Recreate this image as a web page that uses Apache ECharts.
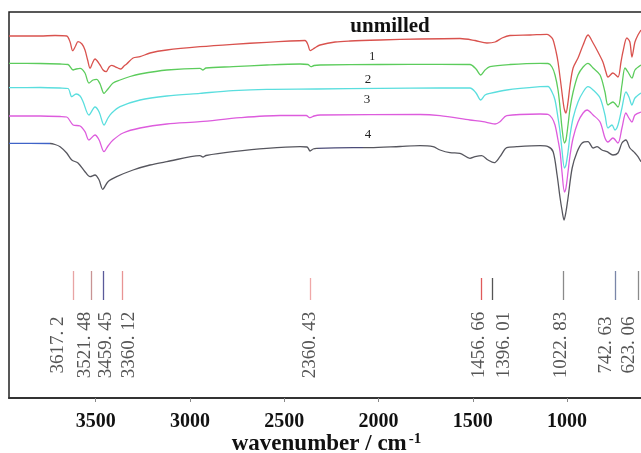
<!DOCTYPE html>
<html>
<head>
<meta charset="utf-8">
<script src="https://cdn.jsdelivr.net/npm/echarts@6/dist/echarts.min.js"></script>
<style>
  html, body { margin: 0; padding: 0; background: #fff; }
  #chart { width: 641px; height: 453px; }
</style>
</head>
<body>
<div id="chart"></div>
<script>
// IR spectra, offset traces (wavenumber cm-1, arbitrary transmittance units)
var unmilled = [
  [3960, 362], [3795, 362], [3716, 362.5], [3654, 362], [3636, 356], [3622, 347.3], [3607, 352],
  [3594, 356.3], [3573, 354], [3557, 348], [3543, 338], [3530, 329.7], [3517, 335], [3504, 339],
  [3477, 333], [3461, 328], [3445, 326.3], [3429, 331], [3415, 332.7], [3398, 331.3], [3382, 330],
  [3367, 329], [3350, 332], [3336, 334], [3302, 340], [3265, 341.3], [3212, 345], [3123, 348],
  [2947, 351.3], [2772, 353.7], [2593, 355.7], [2469, 357], [2390, 357.5], [2374, 353], [2363, 347.3],
  [2347, 349], [2331, 351], [2310, 353], [2230, 356], [2151, 357], [1992, 358], [1780, 359],
  [1568, 359.5], [1488, 357.5], [1425, 355], [1382, 356], [1345, 360], [1303, 362.5], [1196, 363],
  [1106, 363.7], [1085, 361], [1074, 358], [1058, 346], [1048, 336], [1032, 313], [1016, 290],
  [1006, 285], [995, 296], [984, 313], [968, 330], [942, 340], [915, 353], [889, 363], [862, 355],
  [836, 346], [810, 336], [794, 326], [783, 321], [757, 325], [730, 321], [714, 336], [704, 346],
  [683, 360], [667, 356], [656, 341], [640, 356], [624, 363], [608, 368]
];
var sample1 = [
  [3960, 334.7], [3795, 334.5], [3689, 334], [3647, 333.5], [3620, 328], [3604, 329], [3583, 329.7],
  [3557, 325], [3536, 315], [3514, 318], [3495, 318.7], [3477, 314], [3456, 304.7], [3435, 309],
  [3408, 315], [3371, 318], [3318, 321.5], [3265, 324], [3123, 328], [2947, 329.7], [2931, 328],
  [2915, 330], [2772, 331.3], [2593, 333], [2416, 334], [2374, 333.5], [2358, 331.3], [2342, 332.5],
  [2310, 333], [1992, 333.5], [1674, 333.7], [1515, 333.5], [1483, 329], [1458, 323], [1435, 328],
  [1409, 331.3], [1303, 333.5], [1143, 334.7], [1101, 334.5], [1080, 331], [1064, 323], [1048, 308],
  [1037, 290], [1027, 270], [1014, 255], [1006, 258], [995, 273], [984, 290], [968, 306], [942, 323],
  [915, 331], [889, 334.7], [862, 330], [825, 323], [799, 306], [783, 293], [757, 296], [730, 291],
  [709, 313], [693, 330], [677, 326], [656, 320], [640, 328], [608, 333]
];
var sample2 = [
  [3960, 310.3], [3795, 310.5], [3689, 310], [3647, 309.5], [3627, 301.3], [3604, 304], [3583, 302],
  [3567, 296.3], [3536, 283], [3504, 291], [3482, 286], [3456, 273], [3435, 280], [3415, 285],
  [3371, 291.3], [3265, 298], [3123, 302], [2947, 304.7], [2772, 307.3], [2593, 308.7], [2328, 309],
  [1992, 309.7], [1674, 310], [1515, 310], [1483, 305], [1458, 298], [1435, 303], [1409, 304.7],
  [1320, 308], [1143, 311.3], [1101, 311.5], [1080, 306], [1064, 298], [1048, 280], [1037, 266],
  [1027, 248], [1014, 230], [1006, 233], [995, 246], [984, 263], [968, 280], [942, 296], [915, 306],
  [889, 311.3], [862, 308], [825, 300], [799, 283], [783, 270], [762, 273], [746, 268], [730, 273],
  [709, 290], [688, 306], [672, 301], [656, 293], [640, 300], [608, 305]
];
var sample3 = [
  [3960, 282], [3795, 282], [3689, 281.5], [3654, 281], [3620, 273], [3583, 272], [3557, 266.3],
  [3536, 258], [3504, 263], [3482, 258], [3456, 246.3], [3435, 252], [3408, 258], [3355, 265],
  [3265, 270], [3123, 274], [2947, 276.3], [2734, 280.3], [2522, 282.5], [2384, 282.5], [2363, 280.3],
  [2342, 282], [2310, 283], [1780, 283.5], [1674, 282.3], [1515, 278], [1446, 276.3], [1382, 274],
  [1356, 276.3], [1320, 282.3], [1143, 284], [1101, 283.7], [1080, 280], [1064, 273], [1048, 258],
  [1037, 246], [1027, 226], [1014, 206], [1006, 210], [995, 226], [984, 243], [968, 260], [942, 276],
  [915, 285], [894, 288], [862, 283], [825, 276], [799, 260], [783, 256], [757, 260], [730, 255],
  [709, 270], [688, 285], [672, 280], [656, 276], [640, 283], [608, 286]
];
var sample4 = [
  [3960, 254.7], [3849, 254.7], [3742, 254.5], [3716, 253.5], [3689, 251.3], [3654, 245], [3627, 238],
  [3594, 235], [3557, 226.3], [3530, 221.3], [3504, 223], [3482, 218], [3463, 208.7], [3435, 216.3],
  [3389, 221.3], [3302, 228], [3212, 233], [3123, 236.3], [2947, 242.3], [2931, 241], [2915, 242.5],
  [2772, 246.3], [2593, 249.7], [2416, 251.3], [2379, 251], [2363, 247], [2347, 249], [2328, 249.7],
  [2135, 250.3], [2045, 250.3], [1886, 251.5], [1780, 252.3], [1711, 251.3], [1674, 248], [1621, 245.3],
  [1568, 244.7], [1515, 239.7], [1488, 241.3], [1453, 242.3], [1419, 238], [1387, 235.3], [1356, 241.3],
  [1320, 250.3], [1267, 251.3], [1143, 252.3], [1101, 251.3], [1074, 246.3], [1053, 223], [1037, 200],
  [1027, 188], [1016, 178], [1006, 186], [995, 200], [973, 230], [947, 246], [920, 255], [889, 256.3],
  [862, 250], [841, 251.3], [815, 248], [788, 246.3], [757, 243], [730, 245], [709, 255], [688, 258],
  [667, 250], [640, 245], [624, 241.3], [608, 236.3]
];

var peaks = [3617.2, 3521.48, 3459.45, 3360.12, 2360.43, 1456.66, 1396.01, 1022.83, 742.63, 623.06];
var xTicks = [3500, 3000, 2500, 2000, 1500, 1000];
var traceNames = ['unmilled', '1', '2', '3', '4'];

// styling for the peak markers (colour, top of tick, label shift in px)
var peakColors = ['#e8a4a4', '#c89494', '#5a5a9a', '#e89494', '#f0a8a8', '#e05a5a', '#555555', '#8a8a8a', '#7a86a8', '#8a8a8a'];
var peakTop = [127, 127, 127, 127, 120, 120, 120, 127, 127, 127];
var peakShift = [-16, -7, 3, 7, -1, -2, 12, -2, -10, -9];

var serif = '"Liberation Serif", "Times New Roman", serif';

var chart = echarts.init(document.getElementById('chart'));

// color null -> line colour comes from the visualMap
function trace(name, data, color, labelCoord, labelStyle) {
  var s = {
    name: name,
    type: 'line',
    data: data,
    showSymbol: false,
    smooth: 0.3,
    lineStyle: { width: 1.3 },
    markPoint: {
      symbolSize: 0,
      silent: true,
      label: Object.assign({ show: true, position: 'inside', formatter: name, fontFamily: serif, color: '#222' }, labelStyle),
      data: [{ coord: labelCoord }]
    }
  };
  if (color) {
    s.lineStyle.color = color;
    s.itemStyle = { color: color };
  }
  return s;
}

var markerLines = peaks.map(function (p, i) {
  return [
    { coord: [p, peakTop[i]], lineStyle: { color: peakColors[i], width: 1.3, type: 'solid' } },
    { coord: [p, 98] }
  ];
});

var option = {
  animation: false,
  grid: {
    left: 9, right: -3, top: 12, bottom: 55,
    outerBoundsMode: 'none',
    show: true, borderColor: '#222', borderWidth: 1.5
  },
  xAxis: {
    type: 'value',
    inverse: true,
    min: 592,
    max: 3960,
    axisLine: { show: true, lineStyle: { color: '#333', width: 2 } },
    axisTick: { show: true, length: 4, lineStyle: { color: '#888' }, customValues: xTicks },
    axisLabel: {
      customValues: xTicks,
      formatter: function (v) { return String(v); },
      fontFamily: serif, fontWeight: 'bold', fontSize: 20, color: '#111', margin: 14
    },
    splitLine: { show: false },
    name: '{a|wavenumber / cm}{b|-1}',
    nameLocation: 'middle',
    nameGap: 34,
    nameMoveOverlap: false,
    nameTextStyle: {
      rich: {
        a: { fontFamily: serif, fontWeight: 'bold', fontSize: 23, color: '#111' },
        b: { fontFamily: serif, fontWeight: 'bold', fontSize: 15, color: '#111', verticalAlign: 'top', padding: [0, 0, 10, 2] }
      }
    }
  },
  yAxis: {
    type: 'value',
    min: 0,
    max: 386,
    axisLine: { show: false },
    axisTick: { show: false },
    axisLabel: { show: false },
    splitLine: { show: false }
  },
  visualMap: [{
    type: 'piecewise',
    show: false,
    dimension: 0,
    seriesIndex: 4,
    pieces: [
      { gt: 3745, lte: 4000, color: '#3f63c8' },
      { gt: 2080, lte: 2320, color: '#4c4c78' },
      { gt: 0, lte: 2080, color: '#56565e' },
      { gt: 2320, lte: 3745, color: '#56565e' }
    ]
  }],
  series: [
    trace(traceNames[0], unmilled, '#d9524e', [1939, 371], { fontSize: 21, fontWeight: 'bold', color: '#111' }),
    trace(traceNames[1], sample1, '#5ccc5c', [2034, 341], { fontSize: 12 }),
    trace(traceNames[2], sample2, '#5adede', [2056, 318], { fontSize: 13 }),
    trace(traceNames[3], sample3, '#dd5cdd', [2061, 298], { fontSize: 13 }),
    trace(traceNames[4], sample4, null, [2056, 263], { fontSize: 13 }),
    {
      name: 'peaks',
      type: 'scatter',
      symbolSize: 0,
      silent: true,
      data: peaks.map(function (p, i) {
        return {
          value: [p, 53],
          label: { offset: [0, peakShift[i]] }
        };
      }),
      label: {
        show: true,
        position: 'inside',
        rotate: 90,
        align: 'center',
        verticalAlign: 'middle',
        fontFamily: serif,
        fontSize: 19,
        color: '#2a2a2a',
        formatter: function (p) { return String(p.value[0]).replace('.', '. '); }
      },
      markLine: {
        symbol: 'none',
        silent: true,
        label: { show: false },
        data: markerLines
      }
    }
  ]
};

chart.setOption(option);
</script>
</body>
</html>
